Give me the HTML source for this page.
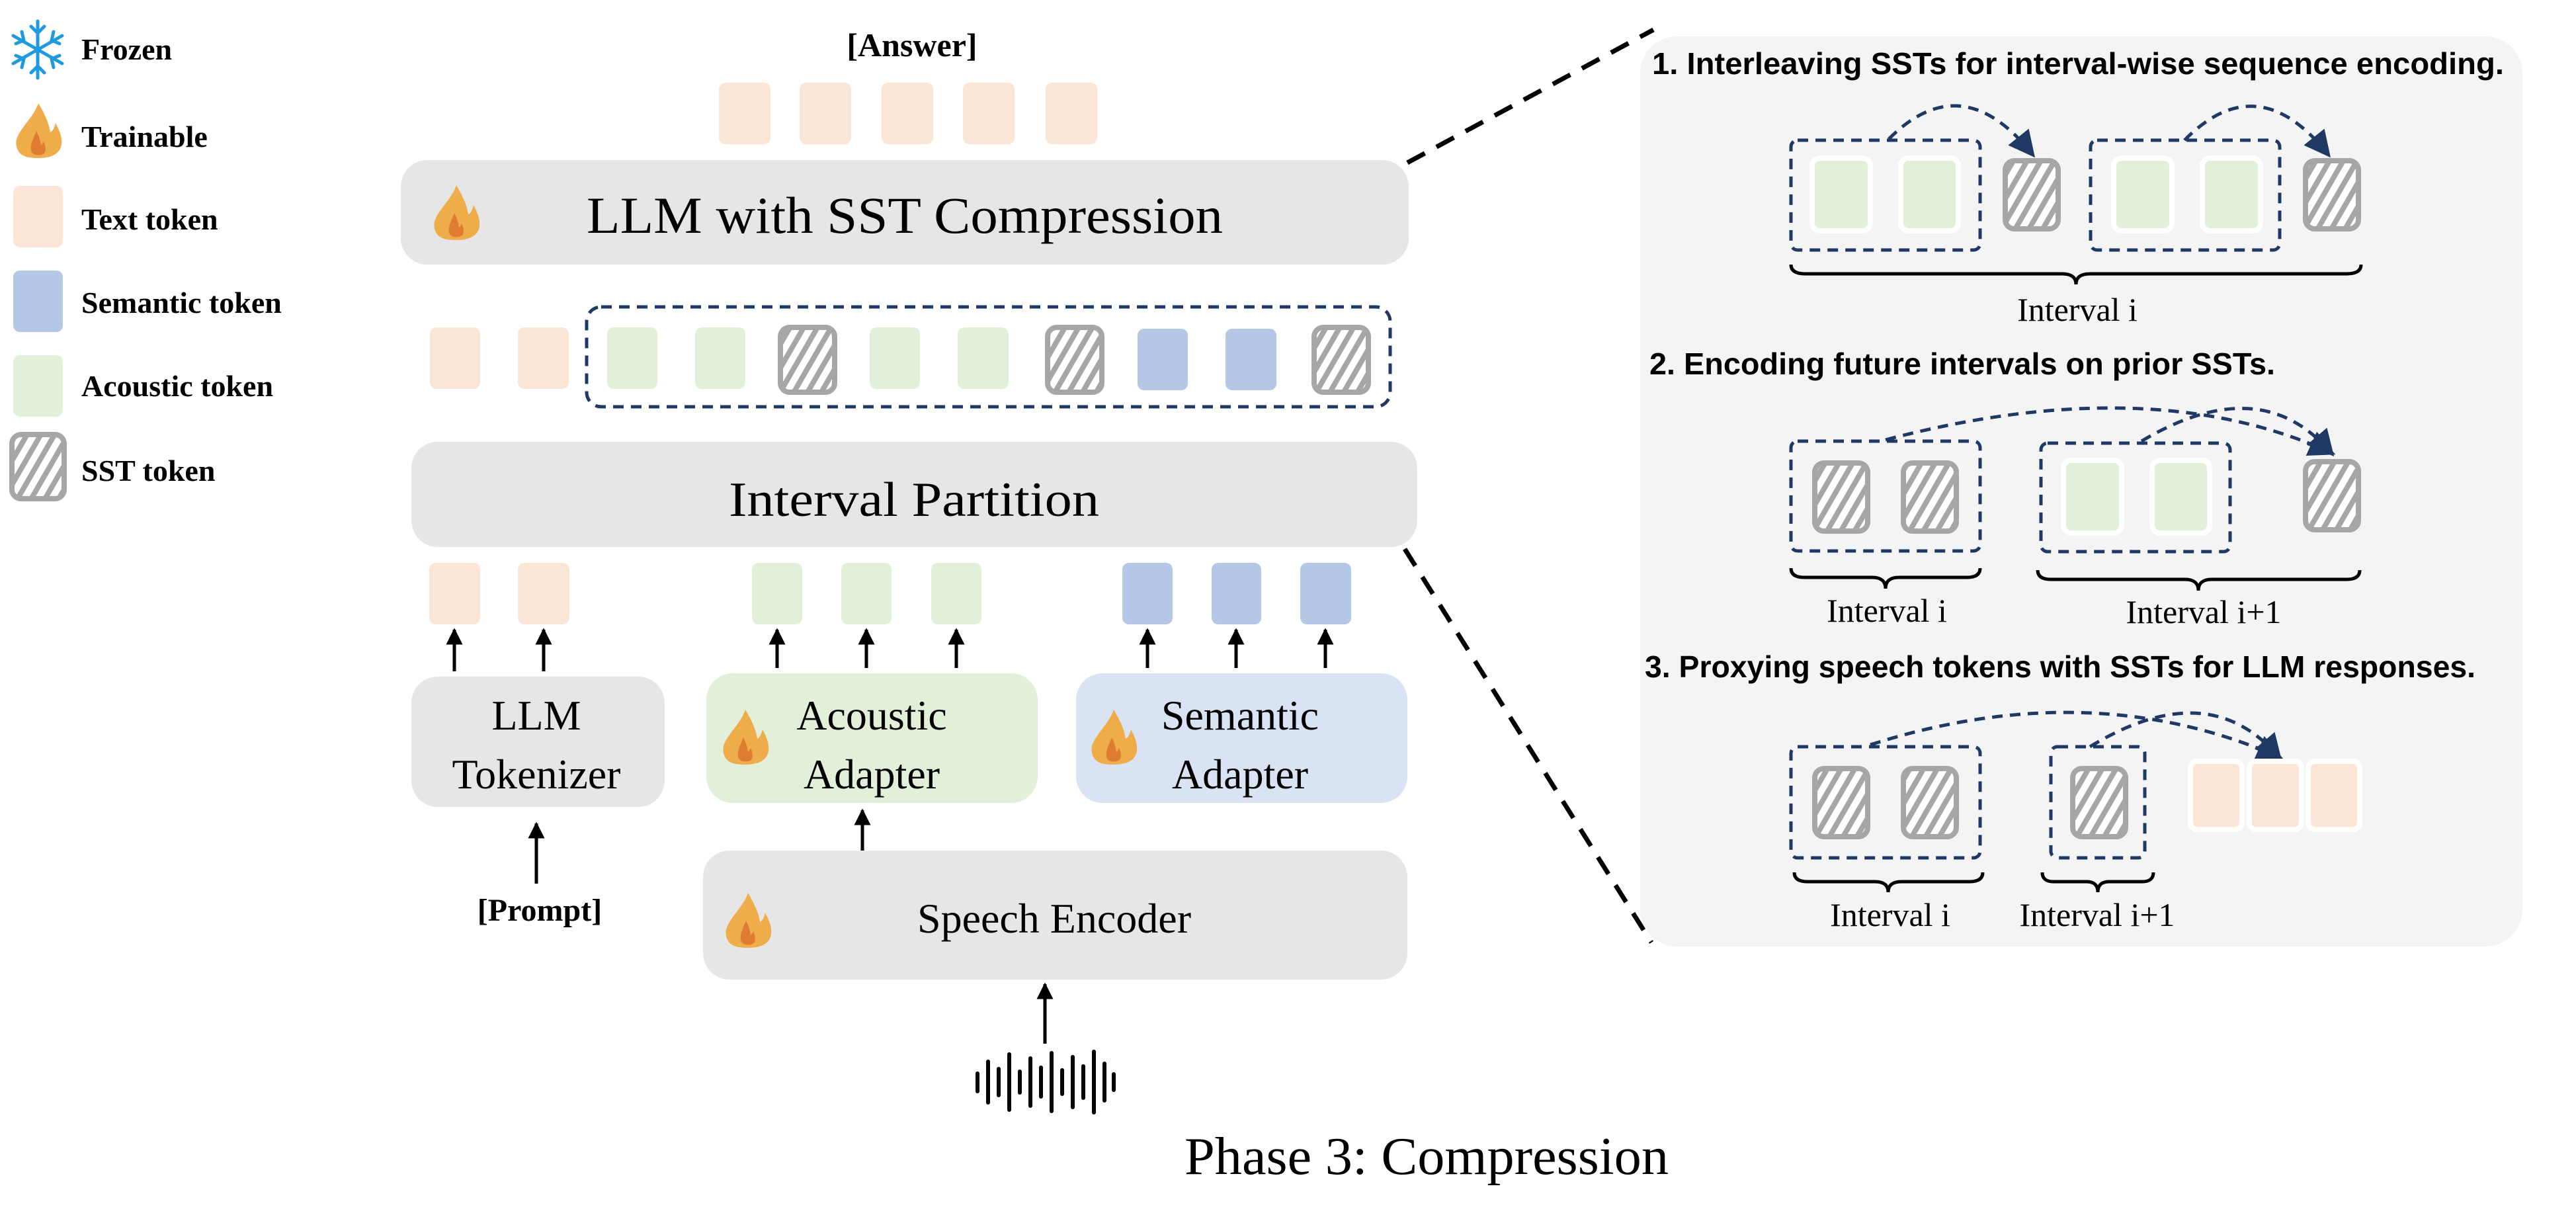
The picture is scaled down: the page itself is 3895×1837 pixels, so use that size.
<!DOCTYPE html>
<html><head><meta charset="utf-8"><style>
html,body{margin:0;padding:0;background:#fff;}
svg{display:block;}
.serif{font-family:"Liberation Serif",serif;}
.sans{font-family:"Liberation Sans",sans-serif;}
</style></head><body>
<svg width="3895" height="1837" viewBox="0 0 3895 1837" xmlns="http://www.w3.org/2000/svg">
<defs>
<pattern id="hatch" width="18" height="18" patternUnits="userSpaceOnUse" patternTransform="rotate(30)">
<rect width="18" height="18" fill="#fff"/><rect width="8" height="18" fill="#a6a6a6"/>
</pattern>
<symbol id="flame" viewBox="0 0 75 83">
<path d="M38,0 C30,25 0,45 5,65 C8,80 20,83 38,83 C60,83 75,75 73,55 C72,45 68,38 64,30 C62,38 60,42 56,44 C54,28 45,12 38,0Z" fill="#efac4b"/>
<path d="M35,42 C30,55 24,65 28,74 C31,80 45,80 48,74 C50,69 48,62 46,58 C44,62 43,63 42,64 C41,55 38,48 35,42Z" fill="#e07b32"/>
</symbol>
<marker id="ah" viewBox="0 0 10 10" refX="9" refY="5" markerWidth="5" markerHeight="5" orient="auto"><path d="M0,0 L10,5 L0,10 Z" fill="#000"/></marker>
<marker id="nh" viewBox="0 0 10 10" refX="8" refY="5" markerWidth="8" markerHeight="8" orient="auto"><path d="M0,0 L10,5 L0,10 Z" fill="#1f3864"/></marker>
</defs>

<!-- Legend -->
<g stroke="#1f9ae0" stroke-width="5" fill="none" stroke-linecap="round">
<line x1="57" y1="32" x2="57" y2="118"/>
<line x1="20" y1="54" x2="94" y2="96"/>
<line x1="20" y1="96" x2="94" y2="54"/>
<path d="M47,40 L57,50 L67,40 M47,110 L57,100 L67,110 M24,66 L36,61 L33,48 M90,84 L78,89 L81,102 M24,84 L36,89 L33,102 M90,66 L78,61 L81,48"/>
</g>
<use href="#flame" x="20" y="156" width="75" height="83"/>
<rect x="20" y="281" width="75" height="93" rx="10" fill="#fbe5d6"/>
<rect x="20" y="409" width="75" height="93" rx="10" fill="#b4c7e7"/>
<rect x="20" y="537" width="75" height="93" rx="10" fill="#e2f0d9"/>
<rect x="18" y="657" width="79" height="97" rx="14" fill="url(#hatch)" stroke="#a6a6a6" stroke-width="8"/>
<g class="serif" font-weight="bold" font-size="46" fill="#000">
<text x="123" y="90">Frozen</text>
<text x="123" y="222">Trainable</text>
<text x="123" y="347">Text token</text>
<text x="123" y="473">Semantic token</text>
<text x="123" y="599">Acoustic token</text>
<text x="123" y="727">SST token</text>
</g>

<!-- Answer -->
<text class="serif" x="1379" y="85" font-size="50" font-weight="bold" text-anchor="middle">[Answer]</text>
<g fill="#fbe5d6">
<rect x="1087" y="125" width="78" height="93" rx="10"/>
<rect x="1209" y="125" width="78" height="93" rx="10"/>
<rect x="1333" y="125" width="78" height="93" rx="10"/>
<rect x="1456" y="125" width="78" height="93" rx="10"/>
<rect x="1581" y="125" width="78" height="93" rx="10"/>
</g>

<!-- LLM box -->
<rect x="606" y="242" width="1524" height="158" rx="40" fill="#e7e6e6"/>
<use href="#flame" x="652" y="280" width="75" height="83"/>
<text class="serif" x="1368" y="352" font-size="78" text-anchor="middle" textLength="962" lengthAdjust="spacingAndGlyphs">LLM with SST Compression</text>

<!-- middle token row -->
<rect x="650" y="495" width="76" height="93" rx="10" fill="#fbe5d6"/>
<rect x="783" y="495" width="77" height="93" rx="10" fill="#fbe5d6"/>
<rect x="887" y="464" width="1215" height="151" rx="22" fill="none" stroke="#1f3864" stroke-width="5" stroke-dasharray="16,11"/>
<g fill="#e2f0d9">
<rect x="918" y="495" width="76" height="93" rx="10"/>
<rect x="1051" y="495" width="76" height="93" rx="10"/>
<rect x="1315" y="495" width="76" height="93" rx="10"/>
<rect x="1448" y="495" width="77" height="93" rx="10"/>
</g>
<g fill="#b4c7e7">
<rect x="1720" y="497" width="76" height="93" rx="10"/>
<rect x="1853" y="497" width="77" height="93" rx="10"/>
</g>
<g fill="url(#hatch)" stroke="#a6a6a6" stroke-width="8">
<rect x="1180" y="495" width="82" height="98" rx="14"/>
<rect x="1584" y="495" width="82" height="98" rx="14"/>
<rect x="1987" y="495" width="82" height="98" rx="14"/>
</g>

<!-- Interval Partition -->
<rect x="622" y="668" width="1521" height="159" rx="40" fill="#e7e6e6"/>
<text class="serif" x="1382" y="780" font-size="74" text-anchor="middle" textLength="560" lengthAdjust="spacingAndGlyphs">Interval Partition</text>

<!-- bottom tokens -->
<rect x="649" y="851" width="77" height="93" rx="10" fill="#fbe5d6"/>
<rect x="783" y="851" width="78" height="93" rx="10" fill="#fbe5d6"/>
<g fill="#e2f0d9">
<rect x="1137" y="851" width="76" height="93" rx="10"/>
<rect x="1272" y="851" width="76" height="93" rx="10"/>
<rect x="1408" y="851" width="76" height="93" rx="10"/>
</g>
<g fill="#b4c7e7">
<rect x="1697" y="851" width="76" height="93" rx="10"/>
<rect x="1832" y="851" width="75" height="93" rx="10"/>
<rect x="1966" y="851" width="77" height="93" rx="10"/>
</g>
<g stroke="#000" stroke-width="5" marker-end="url(#ah)">
<line x1="687" y1="1015" x2="687" y2="952"/>
<line x1="822" y1="1015" x2="822" y2="952"/>
<line x1="1175" y1="1010" x2="1175" y2="952"/>
<line x1="1310" y1="1010" x2="1310" y2="952"/>
<line x1="1446" y1="1010" x2="1446" y2="952"/>
<line x1="1735" y1="1010" x2="1735" y2="952"/>
<line x1="1869" y1="1010" x2="1869" y2="952"/>
<line x1="2004" y1="1010" x2="2004" y2="952"/>
<line x1="1304" y1="1287" x2="1304" y2="1225"/>
<line x1="811" y1="1336" x2="811" y2="1245"/>
<line x1="1580" y1="1578" x2="1580" y2="1488"/>
</g>

<!-- LLM Tokenizer -->
<rect x="622" y="1023" width="383" height="197" rx="40" fill="#e7e6e6"/>
<g class="serif" font-size="64" text-anchor="middle">
<text x="811" y="1103">LLM</text>
<text x="811" y="1192">Tokenizer</text>
</g>
<!-- Acoustic Adapter -->
<rect x="1068" y="1018" width="501" height="196" rx="40" fill="#e2f0d9"/>
<use href="#flame" x="1089" y="1073" width="75" height="83"/>
<g class="serif" font-size="64" text-anchor="middle">
<text x="1318" y="1103">Acoustic</text>
<text x="1318" y="1192">Adapter</text>
</g>
<!-- Semantic Adapter -->
<rect x="1627" y="1018" width="501" height="196" rx="40" fill="#dae3f3"/>
<use href="#flame" x="1646" y="1073" width="75" height="83"/>
<g class="serif" font-size="64" text-anchor="middle">
<text x="1875" y="1103">Semantic</text>
<text x="1875" y="1192">Adapter</text>
</g>
<text class="serif" x="816" y="1392" font-size="48" font-weight="bold" text-anchor="middle">[Prompt]</text>

<!-- Speech Encoder -->
<rect x="1063" y="1286" width="1065" height="195" rx="40" fill="#e7e6e6"/>
<use href="#flame" x="1093" y="1350" width="75" height="83"/>
<text class="serif" x="1594" y="1410" font-size="64" text-anchor="middle">Speech Encoder</text>

<!-- waveform -->
<g stroke="#000" stroke-width="6" stroke-linecap="round">
<line x1="1478" y1="1623" x2="1478" y2="1650"/>
<line x1="1494" y1="1605" x2="1494" y2="1667"/>
<line x1="1510" y1="1616" x2="1510" y2="1656"/>
<line x1="1526" y1="1594" x2="1526" y2="1678"/>
<line x1="1542" y1="1620" x2="1542" y2="1652"/>
<line x1="1558" y1="1600" x2="1558" y2="1672"/>
<line x1="1574" y1="1614" x2="1574" y2="1658"/>
<line x1="1590" y1="1592" x2="1590" y2="1680"/>
<line x1="1606" y1="1618" x2="1606" y2="1654"/>
<line x1="1622" y1="1598" x2="1622" y2="1674"/>
<line x1="1638" y1="1612" x2="1638" y2="1660"/>
<line x1="1654" y1="1590" x2="1654" y2="1682"/>
<line x1="1670" y1="1608" x2="1670" y2="1664"/>
<line x1="1684" y1="1624" x2="1684" y2="1648"/>
</g>

<text class="serif" x="2157" y="1775" font-size="80" text-anchor="middle" textLength="732" lengthAdjust="spacingAndGlyphs">Phase 3: Compression</text>

<!-- zoom lines -->
<g stroke="#000" stroke-width="7" stroke-dasharray="30,20">
<line x1="2128" y1="246" x2="2500" y2="45"/>
<line x1="2124" y1="830" x2="2497" y2="1425"/>
</g>

<!-- right panel -->
<rect x="2480" y="55" width="1334" height="1376" rx="56" fill="#f4f4f4"/>
<g class="sans" font-weight="bold" font-size="46" fill="#000">
<text x="2498" y="112" textLength="1288" lengthAdjust="spacingAndGlyphs">1. Interleaving SSTs for interval-wise sequence encoding.</text>
<text x="2494" y="566" textLength="946" lengthAdjust="spacingAndGlyphs">2. Encoding future intervals on prior SSTs.</text>
<text x="2487" y="1024" textLength="1256" lengthAdjust="spacingAndGlyphs">3. Proxying speech tokens with SSTs for LLM responses.</text>
</g>

<g fill="none" stroke="#1f3864" stroke-width="5" stroke-dasharray="16,11">
<rect x="2708" y="212" width="286" height="166" rx="10"/>
<rect x="3161" y="212" width="286" height="166" rx="10"/>
<rect x="2708" y="667" width="286" height="166" rx="10"/>
<rect x="3086" y="670" width="286" height="164" rx="10"/>
<rect x="2708" y="1129" width="286" height="168" rx="10"/>
<rect x="3101" y="1129" width="142" height="168" rx="10"/>
<path d="M2856,210 Q2966,100 3072,232" marker-end="url(#nh)"/>
<path d="M3303,212 Q3413,100 3519,232" marker-end="url(#nh)"/>
<path d="M2851,665 Q3250,560 3524,684" marker-end="url(#nh)"/>
<path d="M3238,667 Q3418,560 3524,684" marker-end="url(#nh)"/>
<path d="M2828,1126 Q3160,1020 3445,1144" marker-end="url(#nh)"/>
<path d="M3160,1129 Q3339,1020 3445,1144" marker-end="url(#nh)"/>
</g>

<g fill="#e2f0d9" stroke="#fff" stroke-width="8">
<rect x="2740" y="239" width="88" height="110" rx="12"/>
<rect x="2874" y="239" width="87" height="110" rx="12"/>
<rect x="3196" y="239" width="88" height="110" rx="12"/>
<rect x="3330" y="239" width="88" height="110" rx="12"/>
<rect x="3120" y="696" width="88" height="110" rx="12"/>
<rect x="3254" y="696" width="87" height="110" rx="12"/>
</g>
<g fill="#fbe5d6" stroke="#fff" stroke-width="8">
<rect x="3312" y="1151" width="78" height="103" rx="10"/>
<rect x="3401" y="1151" width="79" height="103" rx="10"/>
<rect x="3490" y="1151" width="78" height="103" rx="10"/>
</g>
<g fill="url(#hatch)" stroke="#a6a6a6" stroke-width="8">
<rect x="3032" y="243" width="80" height="103" rx="14"/>
<rect x="3486" y="243" width="80" height="103" rx="14"/>
<rect x="2744" y="700" width="80" height="103" rx="14"/>
<rect x="2878" y="700" width="80" height="103" rx="14"/>
<rect x="3486" y="698" width="80" height="103" rx="14"/>
<rect x="2744" y="1162" width="80" height="103" rx="14"/>
<rect x="2878" y="1162" width="80" height="103" rx="14"/>
<rect x="3134" y="1162" width="80" height="103" rx="14"/>
</g>

<!-- braces -->
<g fill="none" stroke="#000" stroke-width="5">
<path d="M2708,400 Q2708,414 2730,414 L3118,414 Q3139,414 3139,430 Q3139,414 3160,414 L3548,414 Q3570,414 3570,400"/>
<path d="M2708,859 Q2708,873 2728,873 L2831,873 Q2851,873 2851,890 Q2851,873 2871,873 L2974,873 Q2994,873 2994,859"/>
<path d="M3081,862 Q3081,876 3101,876 L3304,876 Q3324,876 3324,893 Q3324,876 3344,876 L3548,876 Q3568,876 3568,862"/>
<path d="M2713,1319 Q2713,1333 2733,1333 L2835,1333 Q2855,1333 2855,1349 Q2855,1333 2875,1333 L2978,1333 Q2998,1333 2998,1319"/>
<path d="M3088,1319 Q3088,1333 3105,1333 L3155,1333 Q3172,1333 3172,1349 Q3172,1333 3189,1333 L3239,1333 Q3256,1333 3256,1319"/>
</g>
<g class="serif" font-size="50" text-anchor="middle">
<text x="3141" y="485">Interval i</text>
<text x="2853" y="940">Interval i</text>
<text x="3332" y="942">Interval i+1</text>
<text x="2858" y="1400">Interval i</text>
<text x="3171" y="1400">Interval i+1</text>
</g>
</svg>
</body></html>
